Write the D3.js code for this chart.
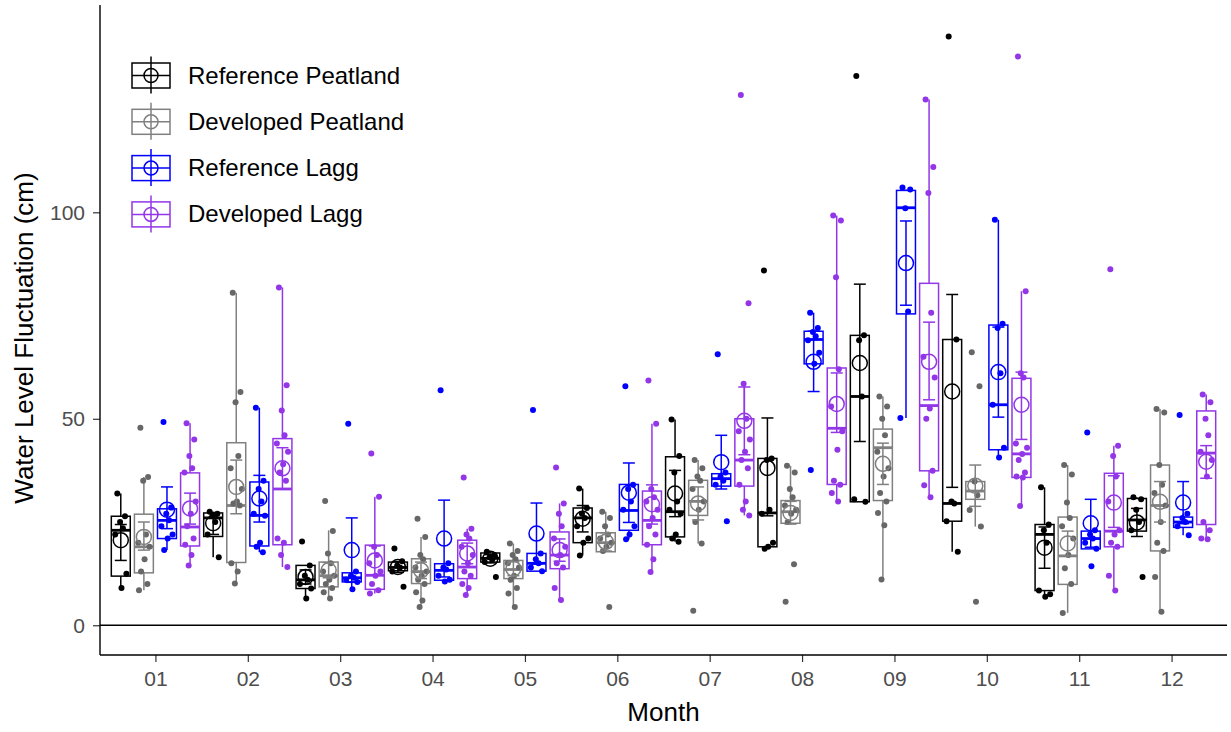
<!DOCTYPE html>
<html>
<head>
<meta charset="utf-8">
<script src="https://cdn.jsdelivr.net/npm/d3@7"></script>
<style>
  body { margin: 0; background: #fff; }
  text { font-family: "Liberation Sans", Arial, sans-serif; }
</style>
</head>
<body>
<div id="chart"></div>
<script>
const months = ["01","02","03","04","05","06","07","08","09","10","11","12"];
const seriesNames = ["Reference Peatland","Developed Peatland","Reference Lagg","Developed Lagg"];
const yTicks = [0, 50, 100];

// box stats per month: [lower whisker, q1, median, q3, upper whisker]
const refPeatBox = [[9,11.9,23,26.4,31.9],[16.5,21.5,26,27.2,27.5],[6.5,8.9,11,14.5,14.5],[13,13.2,14,15.3,15.5],[15,15.3,16.2,17.5,17.8],[16.9,20,26,28.4,33.1],[20.2,21.4,27.5,40.8,49.8],[18.5,19,27.2,40.4,40.4],[29.9,29.9,55.4,70.2,70.2],[17.8,25.2,29.5,69.2,69.2],[6.9,8.4,22,24.4,33.4],[22.8,22.8,25.5,30.7,31]];
const refPeatMean = [20.6,24.7,11.7,14.1,16.1,25.8,31.9,38.1,63.5,56.6,18.8,24.9];
const refPeatErr = [[15.7,24.4],[22,27.3],[10,13.4],[12.8,15.4],[15.1,17.1],[22.6,29],[26.3,37.5],[26.5,50.2],[44.5,82.6],[33.4,80.1],[13.8,23.8],[21.5,28.3]];
const refPeatPts = [[31.9,26.4,25,23.5,22,12.5,9],[27.5,27,26.5,25,22,16.5],[20.3,14.5,12,11,10,8.9,6.5],[18.6,15.5,14.5,14,13,9.3],[17.8,17,16.5,16,15.3,11.7],[33.1,28.4,27,26,24,21,20,16.9],[49.8,41,37,30,28,27,22,21,20.2],[85.9,40.4,40,28,27,20,19,18.5],[133,70.2,69,55.4,30.5,29.9],[142.6,69.2,30,29.5,25.2,17.8],[33.4,24.4,23,20,8.4,7.5,6.9],[31,30.5,28,25,23,11.7]];

const devPeatBox = [[8.5,12.7,19,26.9,35.9],[10.1,15.2,29,44.2,80.5],[6.5,9.3,12,15.3,23],[4.4,10.1,13,16.1,21.4],[4.4,11.3,13.5,15.7,19.8],[17.8,17.8,20,22.4,27.5],[19.8,26.6,30,35.1,40],[24.7,24.7,27.5,30.2,38.6],[11.1,30.2,43,47.5,55.4],[23.9,30.5,32.5,34.8,36],[3,9.9,16.8,26.2,38.8],[3.3,18,29,38.8,52.4]];
const devPeatMean = [21.4,33.5,13.3,13.3,13.7,20.2,29.5,27.2,39.1,33.8,19.8,29.9];
const devPeatErr = [[18.2,25],[27,40],[11.5,15.2],[11.3,15.3],[12,15.4],[18,22.4],[25.5,33.5],[24.5,30],[34.1,44.1],[28.8,38.8],[16.8,22.8],[25,34.8]];
const devPeatPts = [[47.8,35.9,35,22,20,19,16,13,10,8.5],[80.5,56.5,54,41,38,33,30,29.5,29,15,13,10.1],[30.1,22.8,17.4,15,13,12,11,10,9,8,6.5],[25.8,21.4,17,16,14,13,12,11,10,8,6,4.4],[19.8,18,17,16,15,14,12,11,9,7.7,4.4],[27.5,26,24,22,21,20,19,18,4.4],[40,38,36,35,33,30,28,25,19.8,3.5],[38.6,37,33,31,29,28,27,25,14.8,5.7],[55.4,53,50,46,42,38,36,32,30,27.2,24.2,11.1],[66.1,57.9,34.8,31.5,27.9,23.9,5.7],[38.8,36.5,29.7,26,24,21,17,13.8,10,3],[52.4,51.5,38.8,34,32,29,25,20,18,11.7,3.3]];

const refLaggBox = [[18.2,21,25.4,28.2,28.5],[17.7,19.2,26.6,34.7,52.7],[8.7,10.5,11.5,12.7,13],[10.6,10.9,13.3,14.9,15],[13,13.1,15,17.4,17.4],[20.8,23,27.8,34.1,34.1],[33.7,33.7,35.5,36.7,37],[63.3,63.3,69.2,71.2,75.7],[50.2,75.4,101.1,105.3,105.5],[40.6,42.5,53.4,72.7,98.2],[18.5,18.5,21,22.8,23],[21.8,23.7,25,26.2,27]];
const refLaggMean = [28,30.7,18.2,21,22.2,32.1,39.5,63.8,87.7,61.3,24.7,29.7];
const refLaggErr = [[23.4,33.5],[25,36.3],[10.4,26],[11.7,30.3],[14.8,29.6],[24.9,39.3],[33,46],[56.6,71.2],[77.5,97.9],[50.4,72.2],[18.9,30.5],[24.6,34.8]];
const refLaggPts = [[49.2,28.5,27,25.4,24,22,21,18.2],[52.7,35,33,30,27,26.5,20,19,17.7],[48.8,13,12,11.5,11,10.5,8.7],[56.9,15,14,13.5,12,11,10.6],[52.1,17.4,16,15,14,13.1],[57.9,34,33,30,28,24,22,20.8],[65.6,37,36,35,34,25.2],[75.7,72,71,70,69,66,63.3,37.6],[106,105.5,101,76,50.2],[98.2,73,72,61,53.4,43,40.6],[46.7,23,22,21,20,18.5,14.3],[50.9,27,26,25,24,21.8]];

const devLaggBox = [[14.5,19.2,23.8,36.9,48.9],[14.1,19.5,33,45.2,81.8],[7.7,8.7,12.1,19.4,31.1],[7.3,11.3,14.1,20.6,23.4],[6.1,13.7,17,22.6,29.5],[12.9,19.5,25.4,32.5,48.8],[26.6,33.7,40,50,58.5],[29.9,34.1,47.7,62.3,99.2],[30.9,37.4,53.2,82.8,127.3],[28.9,35.8,41.5,59.8,80.9],[8.4,19,22.8,36.8,43.5],[20.8,24.4,41.7,51.9,55.9]];
const devLaggMean = [28.3,38,15.7,17.4,18.2,29.3,49.5,53.6,63.8,53.4,29.7,39.6];
const devLaggErr = [[24.5,32],[33,43],[12.2,19.2],[14.9,19.9],[15.5,20.9],[24.5,34],[41.3,57.7],[46.7,61.1],[54.6,73.4],[45,61.3],[23.7,36.2],[35.6,43.5]];
const devLaggPts = [[48.9,45,41,38,37,30,27,24,21,19.5,17,14.5],[81.8,58.1,52,46,44,42,39,37,35,21,20,17,14.1],[41.6,31.1,19,17,15,13,12,10,8.5,7.7],[35.8,23.4,22,21,19,17,15,13,12,10,9,7.3],[38.2,29.5,27,24,21,19,17,15,14,9,6.1],[59.3,48.8,33,31,30,28,26,24,22,19.5,16,12.9],[128.4,78,58.5,50,47,45,42,40,38,34,30,28,26.6],[99.2,98,84.3,62,53,47,42.5,35,34,32,30],[127.3,111,104.7,75.7,65,60,52.5,50,37.4,33.9,31],[137.7,80.9,61,60,44,43,41.5,40,37,36,35.8,28.9],[86.2,43.5,41,36,30,23,22,20,19,12,8.4],[55.9,54,50,46,42,40,36,25,23,21,20.8]];

const boxData = [refPeatBox, devPeatBox, refLaggBox, devLaggBox];
const meanData = [refPeatMean, devPeatMean, refLaggMean, devLaggMean];
const errData = [refPeatErr, devPeatErr, refLaggErr, devLaggErr];
const ptsData = [refPeatPts, devPeatPts, refLaggPts, devLaggPts];

const lineColors = ["#000000", "#808080", "#0000FF", "#9236E8"];
const dotColors = ["#000000", "#676767", "#0000FF", "#9236E8"];
// horizontal jitter pattern (fraction of the jitter width)
const jitter = [-0.5, 0.6, -0.1, 0.3, -0.8, 0.8, 0.1, -0.4, 0.5, -0.7, 0.2, -0.2, 0.7];

const W = 1231, H = 732;
const plot = {left: 100, right: 1227, top: 5, bottom: 655};
const lw = 1.5;

const svg = d3.select("#chart").append("svg")
  .attr("width", W).attr("height", H);

const x = d3.scalePoint().domain(months).range([plot.left, plot.right]).padding(0.6);
const step = x.step();
const xSub = d3.scaleBand().domain(d3.range(4)).range([-step / 2, step / 2]);
const boxW = xSub.bandwidth() * 0.82;
const y = d3.scaleLinear().domain([-7.2, 150.2]).range([plot.bottom, plot.top]);

// axes
const yAxis = svg.append("g")
  .attr("transform", `translate(${plot.left},0)`)
  .call(d3.axisLeft(y).tickValues(yTicks).tickSize(7).tickPadding(8));
const xAxis = svg.append("g")
  .attr("transform", `translate(0,${plot.bottom})`)
  .call(d3.axisBottom(x).tickSize(7).tickPadding(9));
[yAxis, xAxis].forEach(g => {
  g.select(".domain").remove();
  g.selectAll(".tick line").attr("stroke", "#333").attr("stroke-width", 1.2);
  g.selectAll(".tick text").attr("fill", "#4D4D4D").style("font-size", "21px");
});
svg.append("line").attr("x1", plot.left).attr("x2", plot.left)
  .attr("y1", plot.top).attr("y2", plot.bottom).attr("stroke", "#000").attr("stroke-width", 1.4);
svg.append("line").attr("x1", plot.left).attr("x2", plot.right)
  .attr("y1", plot.bottom).attr("y2", plot.bottom).attr("stroke", "#000").attr("stroke-width", 1.4);

// zero line
svg.append("line").attr("x1", plot.left).attr("x2", plot.right)
  .attr("y1", y(0)).attr("y2", y(0)).attr("stroke", "#000").attr("stroke-width", 1.3);

// titles
svg.append("text").attr("x", (plot.left + plot.right) / 2).attr("y", 721)
  .attr("text-anchor", "middle").style("font-size", "26px").attr("fill", "#000").text("Month");
svg.append("text").attr("transform", `translate(33,${(plot.top + plot.bottom) / 2 + 8}) rotate(-90)`)
  .attr("text-anchor", "middle").style("font-size", "26px").attr("fill", "#000")
  .text("Water Level Fluctuation (cm)");

const cx = (m, s) => x(m) + xSub(s) + xSub.bandwidth() / 2;

// boxplots
seriesNames.forEach((name, s) => {
  const g = svg.append("g");
  months.forEach((m, i) => {
    const [lo, q1, med, q3, hi] = boxData[s][i];
    const c = cx(m, s);
    g.append("line").attr("x1", c).attr("x2", c).attr("y1", y(hi)).attr("y2", y(q3))
      .attr("stroke", lineColors[s]).attr("stroke-width", lw);
    g.append("line").attr("x1", c).attr("x2", c).attr("y1", y(q1)).attr("y2", y(lo))
      .attr("stroke", lineColors[s]).attr("stroke-width", lw);
    g.append("rect").attr("x", c - boxW / 2).attr("width", boxW)
      .attr("y", y(q3)).attr("height", Math.max(1, y(q1) - y(q3)))
      .attr("fill", "#fff").attr("stroke", lineColors[s]).attr("stroke-width", lw);
    g.append("line").attr("x1", c - boxW / 2).attr("x2", c + boxW / 2)
      .attr("y1", y(med)).attr("y2", y(med))
      .attr("stroke", lineColors[s]).attr("stroke-width", 2.8);
  });
});

// jittered points
seriesNames.forEach((name, s) => {
  const g = svg.append("g");
  months.forEach((m, i) => {
    g.selectAll(null).data(ptsData[s][i]).enter().append("circle")
      .attr("cx", (d, k) => cx(m, s) + jitter[k % jitter.length] * 7)
      .attr("cy", d => y(d))
      .attr("r", 3)
      .attr("fill", dotColors[s]);
  });
});

// mean +/- error
seriesNames.forEach((name, s) => {
  const g = svg.append("g");
  months.forEach((m, i) => {
    const c = cx(m, s);
    const [elo, ehi] = errData[s][i];
    g.append("line").attr("x1", c).attr("x2", c).attr("y1", y(ehi)).attr("y2", y(elo))
      .attr("stroke", lineColors[s]).attr("stroke-width", lw);
    [elo, ehi].forEach(v => g.append("line")
      .attr("x1", c - 6).attr("x2", c + 6).attr("y1", y(v)).attr("y2", y(v))
      .attr("stroke", lineColors[s]).attr("stroke-width", lw));
    g.append("circle").attr("cx", c).attr("cy", y(meanData[s][i])).attr("r", 7.5)
      .attr("fill", "none").attr("stroke", lineColors[s]).attr("stroke-width", lw);
  });
});

// legend
const legend = svg.append("g");
seriesNames.forEach((name, s) => {
  const ly = 75.5 + s * 46.3;
  const lg = legend.append("g").attr("transform", `translate(151,${ly})`);
  lg.append("line").attr("y1", -19).attr("y2", 18).attr("stroke", lineColors[s]).attr("stroke-width", lw);
  lg.append("rect").attr("x", -19).attr("y", -12.5).attr("width", 38).attr("height", 25)
    .attr("fill", "#fff").attr("stroke", lineColors[s]).attr("stroke-width", lw);
  lg.append("line").attr("x1", -19).attr("x2", 19).attr("stroke", lineColors[s]).attr("stroke-width", lw);
  lg.append("line").attr("y1", -12.5).attr("y2", 12.5).attr("stroke", lineColors[s]).attr("stroke-width", lw);
  lg.append("circle").attr("r", 7).attr("fill", "none").attr("stroke", lineColors[s]).attr("stroke-width", lw);
  legend.append("text").attr("x", 188).attr("y", ly + 8)
    .style("font-size", "24px").attr("fill", "#000").text(name);
});
</script>
</body>
</html>
